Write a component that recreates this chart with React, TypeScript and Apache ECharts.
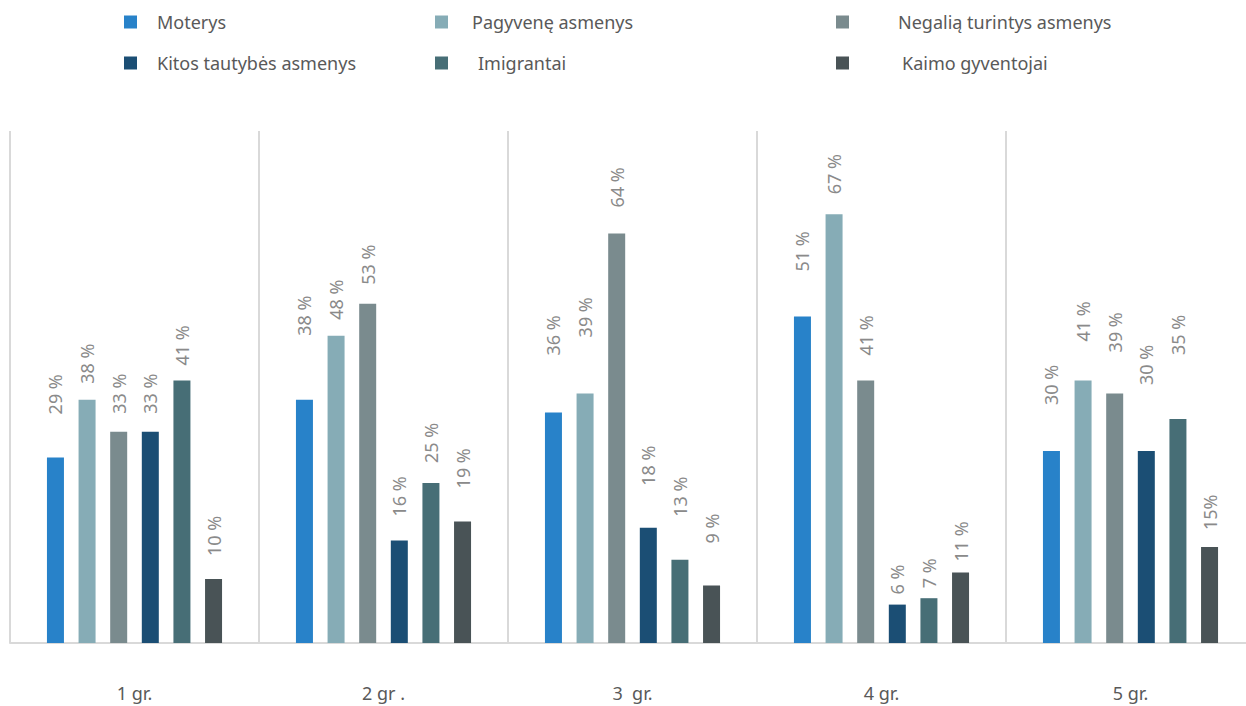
import React, { useEffect, useRef } from "react";
import * as echarts from "echarts";

const categories = ["1 gr.", "2 gr .", "3  gr.", "4 gr.", "5 gr."];
const seriesNames = [
  "Moterys",
  "Pagyvenę asmenys",
  "Negalią turintys asmenys",
  "Kitos tautybės asmenys",
  "Imigrantai",
  "Kaimo gyventojai",
];
const moterys = [29, 38, 36, 51, 30];
const pagyvene = [38, 48, 39, 67, 41];
const negalia = [33, 53, 64, 41, 39];
const kitos = [33, 16, 18, 6, 30];
const imigrantai = [41, 25, 13, 7, 35];
const kaimo = [10, 19, 9, 11, 15];
const values = [moterys, pagyvene, negalia, kitos, imigrantai, kaimo];
const colors = ["#2882C9", "#86ACB6", "#7A8B8E", "#1B4E74", "#476E76", "#495356"];

// label offsets (px) above each bar, as placed in the original chart
const labelGaps = [
  [43, 64, 57, 45, 46],
  [16, 16, 56, 20, 39],
  [18, 19, 26, 25, 41],
  [18, 24, 42, 10, 66],
  [15, 20, 43, 10, 64],
  [23, 33, 42, 11, 17],
];

const legendPos = [
  { left: 124, top: 12, gap: 20 },
  { left: 435, top: 12, gap: 24 },
  { left: 836, top: 12, gap: 49 },
  { left: 124, top: 53, gap: 20 },
  { left: 435, top: 53, gap: 30 },
  { left: 836, top: 53, gap: 53 },
];

export default function App() {
  const ref = useRef<HTMLDivElement>(null);
  useEffect(() => {
    if (!ref.current) return;
    const chart = echarts.init(ref.current, undefined, { renderer: "svg" });
    const font = "Noto Sans";
    chart.setOption({
      animation: false,
      backgroundColor: "#ffffff",
      legend: seriesNames.map((n, i) => ({
        data: [n],
        left: legendPos[i].left,
        top: legendPos[i].top,
        padding: 0,
        icon: "rect",
        itemWidth: 13,
        itemHeight: 13,
        selectedMode: false,
        textStyle: {
          fontFamily: font,
          fontSize: 18,
          color: "#595959",
          lineHeight: 20,
          padding: [0, 0, 0, legendPos[i].gap - 5],
        },
      })),
      grid: { left: 10, right: 0, top: 131, height: 512, containLabel: false },
      xAxis: {
        type: "category",
        data: categories,
        axisLine: { show: true, lineStyle: { color: "#d9d9d9", width: 2 } },
        axisTick: { show: false },
        splitLine: { show: true, lineStyle: { color: "#d9d9d9", width: 2 } },
        axisLabel: {
          fontFamily: font,
          fontSize: 18,
          color: "#595959",
          margin: 41,
        },
      },
      yAxis: {
        type: "value",
        min: 0,
        max: 80,
        show: false,
        splitLine: { show: false },
      },
      series: seriesNames.map((n, i) => ({
        name: n,
        type: "bar",
        data: values[i].map((v, j) => ({
          value: v,
          label: { distance: labelGaps[i][j] },
        })),
        barWidth: 17,
        barGap: "86%",
        itemStyle: { color: colors[i] },
        label: {
          show: true,
          position: "top",
          rotate: 90,
          align: "left",
          verticalAlign: "middle",
          distance: 18,
          fontFamily: font,
          fontSize: 18,
          color: "#8a8a8a",
          formatter: (p: any) =>
            p.seriesIndex === 5 && p.dataIndex === 4 ? `${p.value}%` : `${p.value} %`,
        },
      })),
    });
    return () => chart.dispose();
  }, []);
  return (
    <div
      style={{
        position: "absolute",
        left: 0,
        top: 0,
        width: 1246,
        height: 706,
        overflow: "hidden",
        background: "#ffffff",
      }}
    >
      <div ref={ref} style={{ width: 1255, height: 706 }} />
    </div>
  );
}
